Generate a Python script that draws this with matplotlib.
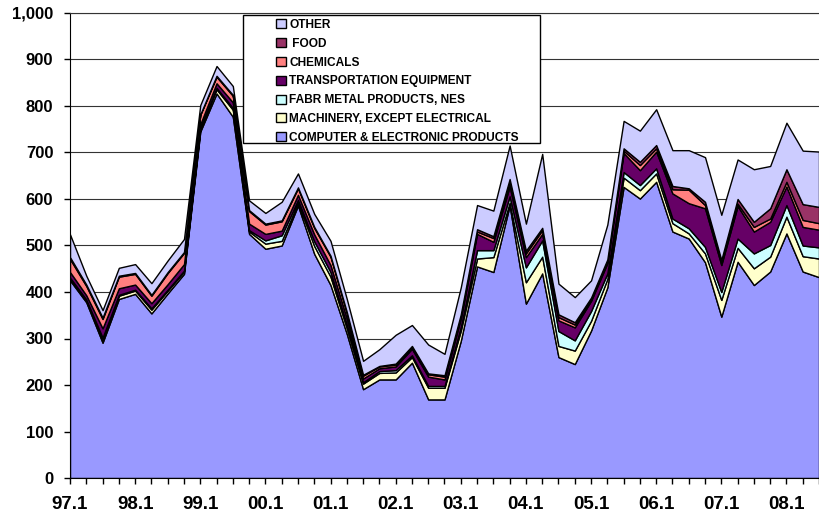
# подключаем необходимые библиотеки
import matplotlib.pyplot as plt
from matplotlib.patches import Rectangle
from matplotlib.ticker import FuncFormatter, MultipleLocator

# кварталы с 97.1 по 08.3
years = ['97', '98', '99', '00', '01', '02', '03', '04', '05', '06', '07', '08']
quarters = [f'{y}.{q}' for y in years for q in (1, 2, 3, 4)][:47]

# значения по отраслям (снизу вверх в стопке)
computer = [425, 378, 291, 385, 396, 354, 397, 439, 745, 827, 777, 525, 493, 500, 586, 482,
            415, 310, 191, 212, 212, 248, 169, 169, 295, 455, 443, 586, 375, 440, 260, 245,
            317, 410, 626, 601, 637, 530, 515, 464, 347, 465, 415, 444, 526, 444, 432]
machinery = [4, 4, 7, 7, 7, 8, 6, 5, 6, 9, 15, 5, 11, 10, 6, 17,
             18, 12, 12, 14, 15, 12, 25, 25, 22, 17, 32, 6, 46, 36, 24, 29,
             21, 18, 20, 18, 18, 18, 11, 19, 36, 30, 36, 32, 36, 33, 40]
fabr_metal = [2, 2, 4, 2, 2, 3, 2, 2, 2, 3, 4, 3, 7, 12, 6, 10,
              10, 8, 3, 4, 5, 4, 4, 4, 8, 18, 15, 14, 32, 35, 32, 22,
              21, 12, 12, 11, 11, 10, 11, 14, 17, 20, 32, 25, 25, 23, 24]
transport = [12, 9, 20, 14, 11, 11, 12, 14, 8, 10, 12, 14, 14, 10, 11, 15,
             15, 13, 8, 6, 8, 14, 20, 14, 18, 35, 18, 21, 22, 14, 23, 28,
             22, 22, 41, 32, 36, 54, 54, 83, 58, 70, 47, 50, 40, 40, 38]
chemicals = [28, 20, 20, 25, 23, 16, 24, 24, 20, 14, 14, 27, 20, 20, 14, 14,
             18, 12, 6, 4, 4, 4, 5, 6, 6, 5, 8, 10, 8, 8, 7, 6,
             4, 4, 5, 11, 7, 9, 29, 7, 6, 5, 10, 7, 10, 15, 14]
food = [4, 3, 3, 2, 2, 2, 2, 2, 1, 2, 2, 2, 2, 2, 2, 2,
        2, 2, 2, 1, 2, 2, 2, 3, 3, 5, 4, 6, 6, 5, 6, 5,
        3, 4, 5, 7, 7, 7, 3, 7, 5, 10, 11, 22, 27, 34, 35]
other = [49, 19, 16, 17, 19, 25, 25, 28, 20, 21, 19, 21, 23, 40, 30, 28,
         32, 28, 30, 36, 62, 45, 62, 46, 58, 52, 55, 72, 58, 159, 66, 54,
         37, 75, 59, 67, 77, 77, 82, 96, 97, 85, 113, 91, 100, 115, 119]

labels = ['COMPUTER & ELECTRONIC PRODUCTS', 'MACHINERY, EXCEPT ELECTRICAL',
          'FABR METAL PRODUCTS, NES', 'TRANSPORTATION EQUIPMENT', 'CHEMICALS',
          ' FOOD', 'OTHER']
colors = ['#9999FF', '#FFFFCC', '#CCFFFF', '#660066', '#FF8080', '#993366', '#CCCCFF']

plt.rcParams['font.family'] = ['Liberation Sans', 'DejaVu Sans']
plt.rcParams['font.weight'] = 'bold'

fig = plt.figure(figsize=(8.19, 5.16), dpi=100)
ax = fig.add_axes([70 / 819, 1 - 478 / 516, 1 - 70 / 819, 465 / 516])

x = list(range(len(quarters)))
polys = ax.stackplot(x, computer, machinery, fabr_metal, transport, chemicals, food, other,
                     colors=colors, labels=labels, edgecolor='black', linewidth=1.0)

# оси и сетка
ax.set_xlim(0, 45 + 11 / 16.4)
ax.set_ylim(0, 1000)
ax.yaxis.set_major_locator(MultipleLocator(100))
ax.yaxis.set_major_formatter(FuncFormatter(lambda v, p: f'{int(v):,}'))
ax.set_xticks(x[::4])
ax.set_xticklabels(quarters[::4])
ax.set_xticks(x, minor=True)
ax.grid(axis='y', color='#333333', linewidth=0.8)
ax.set_axisbelow(True)
ax.spines['right'].set_visible(False)
ax.spines['top'].set_color('#333333')
ax.spines['top'].set_linewidth(0.8)
ax.tick_params(axis='y', direction='out', length=4, width=1, pad=8, labelsize=12)
ax.tick_params(axis='x', which='both', direction='out', length=4, width=1, pad=9, labelsize=13.5)
ax.tick_params(axis='x', which='minor', labelbottom=False)

# рамка легенды и сама легенда
ax.add_patch(Rectangle((243 / 819, 1 - 143 / 516), 297 / 819, 128 / 516,
                       transform=fig.transFigure, facecolor='white', edgecolor='black',
                       linewidth=1, zorder=4, clip_on=False))
handles, names = ax.get_legend_handles_labels()
leg = ax.legend(handles[::-1], names[::-1], loc='upper left',
                bbox_to_anchor=(276 / 819, 1 - 19 / 516), bbox_transform=fig.transFigure,
                frameon=False, prop={'size': 8.6, 'weight': 'bold'},
                handlelength=0.8, handleheight=0.8, handletextpad=0.3,
                labelspacing=0.57, borderpad=0, borderaxespad=0)
leg.set_zorder(5)

plt.savefig('out.png', dpi=100)
